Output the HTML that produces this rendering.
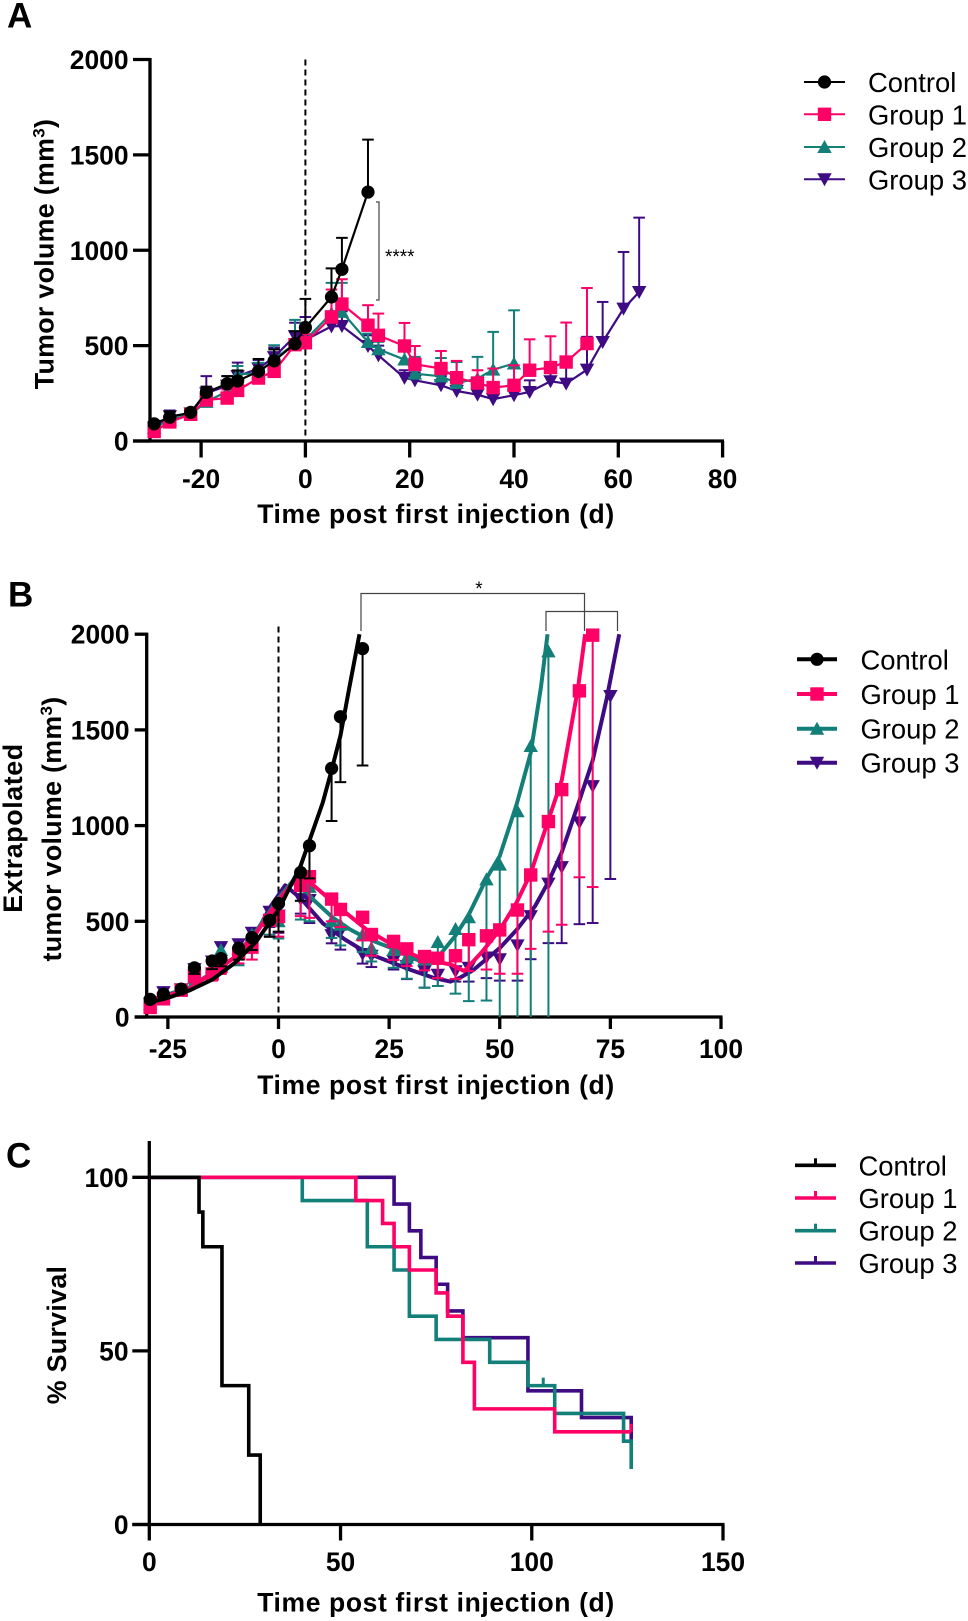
<!DOCTYPE html>
<html lang="en">
<head>
<meta charset="utf-8">
<title>Tumor volume and survival by group</title>
<style>
html,body{margin:0;padding:0;background:#fff;}
svg{display:block;}
text{font-family:"Liberation Sans",Arial,sans-serif;fill:#000;}
.tick{font-weight:700;font-size:26.4px;}
.title{font-weight:700;font-size:26.5px;letter-spacing:.62px;}
.ytitle{font-weight:700;font-size:26.8px;letter-spacing:.3px;}
.leg{font-size:27.4px;}
.panel{font-weight:700;font-size:35px;}
</style>
</head>
<body>
<svg id="fig" width="968" height="1621" viewBox="0 0 968 1621" xmlns="http://www.w3.org/2000/svg">
  <rect width="968" height="1621" fill="#fff"/>

  <text class="panel" x="7" y="27.5">A</text>
  <text class="panel" x="8" y="606.5">B</text>
  <text class="panel" x="6" y="1167.5">C</text>

  <g id="chartA"></g>
  <g id="chartB"></g>
  <g id="chartC"></g>

  <text class="title" x="436" y="523" text-anchor="middle">Time post first injection (d)</text>
  <text class="ytitle" transform="translate(53.5,254) rotate(-90)" text-anchor="middle">Tumor volume (mm<tspan dy="-9" font-size="17">3</tspan><tspan dy="9">)</tspan></text>

  <text class="title" x="436" y="1094" text-anchor="middle">Time post first injection (d)</text>
  <text class="ytitle" transform="translate(22,828) rotate(-90)" text-anchor="middle" style="letter-spacing:.6px">Extrapolated</text>
  <text class="ytitle" transform="translate(61,829) rotate(-90)" text-anchor="middle">tumor volume (mm<tspan dy="-9" font-size="17">3</tspan><tspan dy="9">)</tspan></text>

  <text class="title" x="436" y="1611.5" text-anchor="middle">Time post first injection (d)</text>
  <text class="ytitle" transform="translate(66,1335) rotate(-90)" text-anchor="middle">% Survival</text>

  <g fill="none" stroke="#444" stroke-width="1.2">
    <path d="M376 202H379V300H376"/>
  </g>
  <text x="385" y="263" font-size="19">****</text>

  <g fill="none" stroke="#444" stroke-width="1.2">
    <path d="M361 631V593.5H584.5V631"/>
    <path d="M546 631V611.5H617.5V631"/>
  </g>
  <text x="479" y="595" font-size="19" text-anchor="middle">*</text>

  <g id="legendA">
    <text class="leg" x="868" y="92">Control</text>
    <text class="leg" x="868" y="124.5">Group 1</text>
    <text class="leg" x="868" y="157">Group 2</text>
    <text class="leg" x="868" y="189.5">Group 3</text>
  </g>
  <g id="legendB">
    <text class="leg" x="860.5" y="669.5">Control</text>
    <text class="leg" x="860.5" y="704">Group 1</text>
    <text class="leg" x="860.5" y="738.5">Group 2</text>
    <text class="leg" x="860.5" y="772.5">Group 3</text>
  </g>
  <g id="legendC">
    <text class="leg" x="858.5" y="1175.5">Control</text>
    <text class="leg" x="858.5" y="1208">Group 1</text>
    <text class="leg" x="858.5" y="1240.5">Group 2</text>
    <text class="leg" x="858.5" y="1273">Group 3</text>
  </g>
</svg>

<script>
/* ---------- Chart A data ---------- */
var aDays = [-29,-26,-22,-19,-15,-13,-9,-6,-2,0,5,7,12,14,19,21,26,29,33,36,40,43,47,50,54,57,61,64];
var aControlMean = [90,125,150,255,300,315,365,420,510,595,755,900,1305];
var aControlTop  = [105,155,170,285,340,370,430,480,575,745,905,1065,1580];
var aGroup1Mean = [50,100,140,215,225,265,330,365,505,515,650,718,607,554,498,402,380,332,304,280,292,371,385,414,511];
var aGroup1Top  = [60,115,155,255,270,310,365,410,530,560,794,848,712,668,619,498,472,420,371,380,397,533,549,621,802];
var aGroup2Mean = [70,110,140,205,260,350,355,430,510,530,670,677,519,481,427,353,339,304,327,374,406];
var aGroup2Top  = [85,135,165,270,300,393,410,502,635,620,829,829,563,520,470,441,435,414,441,572,685];
var aGroup3Mean = [70,130,145,250,290,340,380,440,550,530,601,603,498,449,331,318,292,262,243,219,240,257,313,301,374,519,694,781];
var aGroup3Top  = [85,160,170,340,340,411,425,490,620,650,680,680,554,500,371,360,340,300,280,260,290,318,380,388,546,729,991,1171];
var aXTicks = [-20,0,20,40,60,80];
var aYTicks = [0,500,1000,1500,2000];

/* ---------- Chart B data ---------- */
var bDays = [-29,-26,-22,-19,-15,-13,-9,-6,-2,0,5,7,12,14,19,21,26,29,33,36,40,43,47,50,54,57,61,64,68,71,75];
var bControlMean = [92,119,146,257,293,305,359,415,505,593,755,895,1299,1569,1925];
var bControlLow  = [75,100,125,225,250,265,300,350,419,446,607,724,1024,1227,1314];
var bGroup1Mean = [50,95,140,215,225,265,330,365,505,525,688,733,616,562,521,431,395,356,316,307,320,404,424,455,559,742,1021,1188,1704,1995];
var bGroup1Low  = [40,80,120,180,190,225,280,300,420,420,527,518,500,470,400,320,298,266,244,203,199,240,248,226,226,356,446,482,730,679];
var bGroup2Mean = [70,110,140,205,260,350,355,430,510,500,688,680,500,482,430,360,350,310,300,392,460,521,719,796,1075,1416,1910];
var bGroup2Low  = [60,90,120,170,210,290,270,340,430,410,509,500,413,374,340,290,257,200,153,162,122,83,86,0,0,0,0];
var bGroup3Mean = [70,130,145,250,290,365,380,440,550,530,616,611,428,446,329,320,293,266,239,221,239,257,311,302,374,527,697,783,1017,1206,1677];
var bGroup3Low  = [60,110,125,210,240,310,320,370,470,440,540,491,385,352,279,261,248,198,153,162,185,185,203,190,190,302,386,386,485,491,721];
var bControlFitDays = [-30,-25,-20,-15,-10,-5,0,5,10,12,14,16,18.3];
var bControlFit     = [70,100,140,195,280,395,560,790,1120,1290,1470,1720,2000];
var bGroup1FitDays = [-30,-20,-10,-5,0,4.4,7,12.4,20,26,32.6,38.8,42,46,50,53.8,57,61,64,67.7,69.3];
var bGroup1Fit     = [75,150,310,440,610,733,706,598,455,374,302,275,240,340,455,598,751,1030,1236,1721,2000];
var bGroup2FitDays = [-30,-20,-10,-5,0,3.7,8,12.4,16,20,25,30,33,35,36.3,40,43,47,50,53.8,57,59.3,60.8];
var bGroup2Fit     = [80,155,310,450,620,724,610,517,460,410,365,310,284,290,320,425,535,724,841,1110,1380,1721,2000];
var bGroup3FitDays = [-30,-20,-10,-5,-2,1.5,5,10,15,20,25,30,35,38.8,41,44,50,54,58,61,64,67.7,71,74.2,77];
var bGroup3Fit     = [70,150,310,440,570,688,620,490,405,335,290,245,205,185,205,245,360,460,580,706,860,1110,1340,1667,2000];
var bXTicks = [-25,0,25,50,75,100];
var bYTicks = [0,500,1000,1500,2000];

/* ---------- Chart C data ---------- */
var cControlDays = [0,13,14,19,26,29];
var cControlPct  = [100,90,80,40,20,0];
var cGroup1Days = [0,54,61,64,68,75,78,82,85,106,126];
var cGroup1Pct  = [100,93.3,86.7,80,73.3,66.7,60,46.7,33.3,26.7,26.7];
var cGroup2Days = [0,40,57,64,68,75,89,99,106,124,126];
var cGroup2Pct  = [100,93.3,80,73.3,60,53.3,46.7,40,32,24,16];
var cGroup3Days = [0,64,68,71,75,78,82,99,113,126];
var cGroup3Pct  = [100,92.3,84.6,76.9,69.2,61.5,53.8,38.5,30.8,23];
var cCensorDay = 103;
var cCensorPct = 40;
var cEndCensorDay = 126;
var cEndCensorPct = 26.7;
var cXTicks = [0,50,100,150];
var cYTicks = [0,50,100];

/* ---------- Colours ---------- */
var BLACK = '#000000', PINK = '#ff0066', TEAL = '#127f79', PURPLE = '#3f0b82';
var NS = 'http://www.w3.org/2000/svg';

function make(parent, tag, attrs) {
  var el = document.createElementNS(NS, tag);
  for (var k in attrs) el.setAttribute(k, attrs[k]);
  parent.appendChild(el);
  return el;
}
function linear(d0, d1, r0, r1) {
  return function (v) { return r0 + (v - d0) * (r1 - r0) / (d1 - d0); };
}
function seg(parent, x1, y1, x2, y2, color, w) {
  return make(parent, 'line', {x1: x1, y1: y1, x2: x2, y2: y2, stroke: color, 'stroke-width': w});
}
function polyPoints(xs, ys, sx, sy) {
  var out = [];
  for (var i = 0; i < ys.length; i++) out.push(sx(xs[i]).toFixed(2) + ',' + sy(ys[i]).toFixed(2));
  return out.join(' ');
}
function stepPoints(xs, ys, sx, sy) {
  var out = [sx(xs[0]).toFixed(2) + ',' + sy(ys[0]).toFixed(2)];
  for (var i = 1; i < ys.length; i++) {
    out.push(sx(xs[i]).toFixed(2) + ',' + sy(ys[i - 1]).toFixed(2));
    out.push(sx(xs[i]).toFixed(2) + ',' + sy(ys[i]).toFixed(2));
  }
  return out.join(' ');
}
function marker(parent, kind, cx, cy, color) {
  if (kind === 'circle') return make(parent, 'circle', {cx: cx, cy: cy, r: 6.6, fill: color});
  if (kind === 'square') return make(parent, 'rect', {x: cx - 6.7, y: cy - 6.7, width: 13.4, height: 13.4, fill: color});
  if (kind === 'up') return make(parent, 'polygon', {points: (cx - 7.2) + ',' + (cy + 6) + ' ' + (cx + 7.2) + ',' + (cy + 6) + ' ' + cx + ',' + (cy - 7), fill: color});
  return make(parent, 'polygon', {points: (cx - 7.2) + ',' + (cy - 6) + ' ' + (cx + 7.2) + ',' + (cy - 6) + ' ' + cx + ',' + (cy + 7), fill: color});
}
function drawAxes(g, sx, sy, xTicks, yTicks, opt) {
  var axisX = opt.axisX, base = sy(0);
  var el, i, t;
  el = seg(g, axisX, opt.topY, axisX, opt.bottomY, BLACK, 3.3);
  
  
  el = seg(g, axisX - opt.yTick, base, opt.rightX, base, BLACK, 3.3);
  
  
  for (i = 0; i < yTicks.length; i++) {
    el = seg(g, axisX - opt.yTick, sy(yTicks[i]), axisX, sy(yTicks[i]), BLACK, 3.3);
    
    
    t = make(g, 'text', {'class': 'tick', x: opt.yLabelX, y: sy(yTicks[i]) + 9.5, 'text-anchor': 'end'});
    t.textContent = yTicks[i];
    
    
  }
  for (i = 0; i < xTicks.length; i++) {
    el = seg(g, sx(xTicks[i]), base, sx(xTicks[i]), base + opt.xTick, BLACK, 3.3);
    
    
    t = make(g, 'text', {'class': 'tick', x: sx(xTicks[i]), y: opt.xLabelY, 'text-anchor': 'middle'});
    t.textContent = xTicks[i];
    
    
  }
}
function dashedZero(g, sx, sy, top) {
  var el = seg(g, sx(0), sy(top), sx(0), sy(0), BLACK, 2);
  el.setAttribute('stroke-dasharray', '6 4');
  
  
}

/* ---------- Chart A ---------- */
(function () {
  var g = document.getElementById('chartA');
  var sx = linear(0, 60, 305.4, 618.3);
  var sy = linear(0, 2000, 441, 59.5);
  drawAxes(g, sx, sy, aXTicks, aYTicks, {axisX: 150, topY: 58, bottomY: 442.5, yTick: 17, xTick: 16.5, rightX: 724, yLabelX: 128.5, xLabelY: 488});
  dashedZero(g, sx, sy, 2000);
  var series = [
    {name: 'group-3', color: PURPLE, kind: 'down', mean: aGroup3Mean, top: aGroup3Top},
    {name: 'group-2', color: TEAL, kind: 'up', mean: aGroup2Mean, top: aGroup2Top},
    {name: 'group-1', color: PINK, kind: 'square', mean: aGroup1Mean, top: aGroup1Top},
    {name: 'control', color: BLACK, kind: 'circle', mean: aControlMean, top: aControlTop}
  ];
  series.forEach(function (s) {
    var grp = make(g, 'g', {});
    
    
    var i, el;
    for (i = 0; i < s.mean.length; i++) {
      var x = sx(aDays[i]);
      el = seg(grp, x, sy(s.mean[i]), x, sy(s.top[i]), s.color, 2);
      
      
      el = seg(grp, x - 5.8, sy(s.top[i]), x + 5.8, sy(s.top[i]), s.color, 2);
      
      
    }
    el = make(grp, 'polyline', {points: polyPoints(aDays, s.mean, sx, sy), fill: 'none', stroke: s.color, 'stroke-width': 2.2, 'stroke-linejoin': 'round'});
    
    
    for (i = 0; i < s.mean.length; i++) {
      el = marker(grp, s.kind, sx(aDays[i]), sy(s.mean[i]), s.color);
      
      
    }
  });
})();

/* ---------- Chart B ---------- */
(function () {
  var g = document.getElementById('chartB');
  var sx = linear(0, 100, 278.5, 721);
  var sy = linear(0, 2000, 1017, 634.2);
  drawAxes(g, sx, sy, bXTicks, bYTicks, {axisX: 146.7, topY: 632.6, bottomY: 1018.5, yTick: 12, xTick: 12, rightX: 722.5, yLabelX: 129.5, xLabelY: 1058});
  dashedZero(g, sx, sy, 2040);
  var series = [
    {name: 'group-3', color: PURPLE, kind: 'down', mean: bGroup3Mean, low: bGroup3Low, fx: bGroup3FitDays, fy: bGroup3Fit},
    {name: 'group-2', color: TEAL, kind: 'up', mean: bGroup2Mean, low: bGroup2Low, fx: bGroup2FitDays, fy: bGroup2Fit},
    {name: 'group-1', color: PINK, kind: 'square', mean: bGroup1Mean, low: bGroup1Low, fx: bGroup1FitDays, fy: bGroup1Fit},
    {name: 'control', color: BLACK, kind: 'circle', mean: bControlMean, low: bControlLow, fx: bControlFitDays, fy: bControlFit}
  ];
  series.forEach(function (s) {
    var grp = make(g, 'g', {});
    
    
    var i, el;
    el = make(grp, 'polyline', {points: polyPoints(s.fx, s.fy, sx, sy), fill: 'none', stroke: s.color, 'stroke-width': 4, 'stroke-linejoin': 'round'});
    
    
    for (i = 0; i < s.mean.length; i++) {
      var x = sx(bDays[i]);
      el = seg(grp, x, sy(s.mean[i]), x, sy(s.low[i]), s.color, 2);
      
      
      if (s.low[i] > 0) {
        el = seg(grp, x - 5.8, sy(s.low[i]), x + 5.8, sy(s.low[i]), s.color, 2);
        
        
      }
      el = marker(grp, s.kind, x, sy(s.mean[i]), s.color);
      
      
    }
  });
})();

/* ---------- Chart C ---------- */
(function () {
  var g = document.getElementById('chartC');
  var sx = linear(0, 150, 149.3, 723);
  var sy = linear(0, 100, 1524.5, 1177.3);
  drawAxes(g, sx, sy, cXTicks.slice(1), cYTicks, {axisX: 149.3, topY: 1141, bottomY: 1540.5, yTick: 17, xTick: 16, rightX: 724.5, yLabelX: 128.5, xLabelY: 1571});
  var zeroLabel = make(g, 'text', {'class': 'tick', x: sx(0), y: 1571, 'text-anchor': 'middle'});
  zeroLabel.textContent = cXTicks[0];
  
  
  var series = [
    {name: 'group-3', color: PURPLE, x: cGroup3Days, y: cGroup3Pct},
    {name: 'group-2', color: TEAL, x: cGroup2Days, y: cGroup2Pct},
    {name: 'group-1', color: PINK, x: cGroup1Days, y: cGroup1Pct},
    {name: 'control', color: BLACK, x: cControlDays, y: cControlPct}
  ];
  series.forEach(function (s) {
    var el = make(g, 'polyline', {points: stepPoints(s.x, s.y, sx, sy), fill: 'none', stroke: s.color, 'stroke-width': 3.6, 'stroke-linejoin': 'miter'});
    
    
  });
  var c1 = seg(g, sx(cCensorDay), sy(cCensorPct), sx(cCensorDay), sy(cCensorPct) - 8, TEAL, 3);
  
  
  var c2 = seg(g, sx(cEndCensorDay), sy(cEndCensorPct), sx(cEndCensorDay), sy(cEndCensorPct) - 8, PINK, 3);
  
  
})();

/* ---------- Legends ---------- */
(function () {
  var kinds = ['circle', 'square', 'up', 'down'];
  var colors = [BLACK, PINK, TEAL, PURPLE];
  var names = ['control', 'group-1', 'group-2', 'group-3'];
  var rowsA = [82, 114.3, 147, 179.3];
  var rowsB = [659.3, 694, 728.7, 762.7];
  var rowsC = [1165.3, 1198, 1230.7, 1263];
  var la = document.getElementById('legendA');
  var lb = document.getElementById('legendB');
  var lc = document.getElementById('legendC');
  for (var i = 0; i < 4; i++) {
    var el = seg(la, 804, rowsA[i], 845, rowsA[i], colors[i], 2);
    
    
    el = marker(la, kinds[i], 824.5, rowsA[i], colors[i]);
    
    
    el = seg(lb, 797, rowsB[i], 837, rowsB[i], colors[i], 4);
    
    
    el = marker(lb, kinds[i], 817, rowsB[i], colors[i]);
    
    
    el = seg(lc, 795, rowsC[i], 836, rowsC[i], colors[i], 3.6);
    
    
    el = seg(lc, 815.5, rowsC[i], 815.5, rowsC[i] - 7, colors[i], 3);
    
    
  }
})();
</script>
</body>
</html>
